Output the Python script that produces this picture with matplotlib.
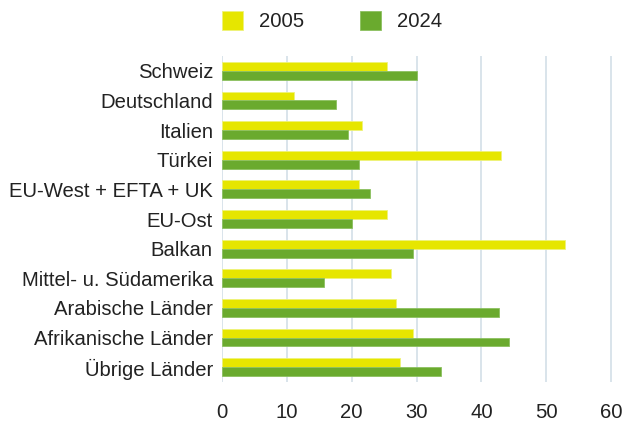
import numpy as np
import matplotlib.pyplot as plt

plt.rcParams['font.family'] = ['Liberation Sans', 'DejaVu Sans']

# Kategorien und Werte
laender = ['Schweiz', 'Deutschland', 'Italien', 'Türkei', 'EU-West + EFTA + UK',
           'EU-Ost', 'Balkan', 'Mittel- u. Südamerika', 'Arabische Länder',
           'Afrikanische Länder', 'Übrige Länder']
werte_2005 = [25.5, 11.1, 21.6, 43.1, 21.2, 25.5, 52.9, 26.1, 26.8, 29.5, 27.4]
werte_2024 = [30.1, 17.6, 19.4, 21.2, 22.8, 20.0, 29.5, 15.7, 42.7, 44.3, 33.8]
xticks = [0, 10, 20, 30, 40, 50, 60]

gelb = '#e6e600'
gruen = '#6aaa2e'
textfarbe = '#222222'
fs = 14.6

fig = plt.figure(figsize=(6.25, 4.23), dpi=100)
ax = fig.add_axes([222/625, 1 - 382/423, (613 - 222)/625, (382 - 56)/423])

y = np.arange(len(laender))
h = 0.3
ax.barh(y - h/2, werte_2005, height=h, color=gelb, edgecolor='#eef27a', linewidth=0.6,
        label='2005', zorder=3)
ax.barh(y + h/2, werte_2024, height=h, color=gruen, edgecolor='#8cc060', linewidth=0.6,
        label='2024', zorder=3)

ax.set_ylim(len(laender) - 0.5, -0.5)
ax.set_xlim(0, 60.3)
ax.set_yticks(y)
ax.set_yticklabels(laender)
ax.set_xticks(xticks)

ax.grid(axis='x', color='#d3dfe8', linewidth=1.2, zorder=0)
ax.grid(axis='y', visible=False)
for s in ax.spines.values():
    s.set_visible(False)

ax.tick_params(axis='y', length=0, pad=6.5, labelsize=fs, labelcolor=textfarbe)
ax.tick_params(axis='x', length=0, pad=15, labelsize=fs, labelcolor=textfarbe)

# Legende oben
fig.legend(loc='upper left', bbox_to_anchor=(222/625, 1 - 11/423), ncol=2, frameon=False,
           fontsize=fs, handlelength=1.05, handleheight=1.05, handletextpad=0.78,
           columnspacing=2.75, borderpad=0, borderaxespad=0, labelcolor=textfarbe)

plt.savefig('out.png', dpi=100)
